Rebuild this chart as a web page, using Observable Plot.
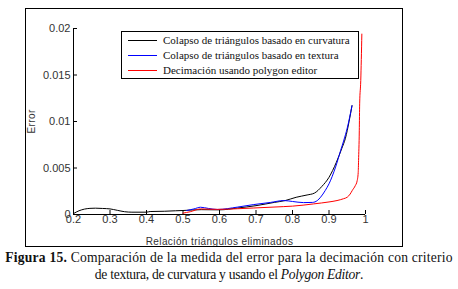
<!DOCTYPE html>
<html>
<head>
<meta charset="utf-8">
<script src="https://cdn.jsdelivr.net/npm/d3@7"></script>
<script src="https://cdn.jsdelivr.net/npm/@observablehq/plot@0.6"></script>
<style>
  body { margin: 0; background: #fff; }
  #wrap { position: relative; width: 458px; height: 289px; overflow: hidden; }
  #chart { position: absolute; left: 0; top: 0; }
  #frame { position: absolute; left: 25px; top: 8px; width: 376px; height: 237px; border: 1px solid #000; pointer-events: none; }
  #legend { position: absolute; left: 121px; top: 31px; width: 236px; height: 46px; border: 1px solid #000; background: #fff;
            font-family: "Liberation Serif", serif; font-size: 11px; color: #111; }
  #legend .row { position: absolute; left: 0; height: 15px; width: 100%; }
  #legend .sw { position: absolute; left: 6px; width: 29px; top: 7px; height: 0; border-top: 1px solid; }
  #legend .lb { position: absolute; left: 41px; top: 0; line-height: 15px; white-space: nowrap; }
  #caption { position: absolute; left: 0; top: 249px; width: 458px; text-align: center;
             font-family: "Liberation Serif", serif; font-size: 13.6px; line-height: 17px; color: #111; }
  #caption .l1 { letter-spacing: 0.22px; white-space: nowrap; }
  #caption .l2 { letter-spacing: -0.3px; white-space: nowrap; }
  #chart svg g[aria-label="x-axis label"] text, #chart svg g[aria-label="y-axis label"] text { font-size: 10px; letter-spacing: 0.4px; }
</style>
</head>
<body>
<div id="wrap">
  <div id="chart"></div>
  <div id="frame"></div>
  <div id="legend"></div>
  <div id="caption"></div>
</div>
<script>
// ---- data ----
const seriesNames = [
  "Colapso de triángulos basado en curvatura",
  "Colapso de triángulos basado en textura",
  "Decimación usando polygon editor"
];
const seriesColors = ["#000000", "#0000ff", "#ff0000"];

const curvX = [0.20, 0.215, 0.23, 0.245, 0.26, 0.28, 0.30, 0.32, 0.34, 0.36, 0.40, 0.41, 0.45, 0.48, 0.50, 0.55, 0.60, 0.65, 0.70, 0.75, 0.78, 0.81, 0.84, 0.86, 0.88, 0.90, 0.92, 0.935, 0.945, 0.955, 0.963];
const curvY = [0.0001, 0.0004, 0.00058, 0.00066, 0.00068, 0.00065, 0.0006, 0.00045, 0.0003, 0.00025, 0.00025, 0.00032, 0.00035, 0.0004, 0.00043, 0.00052, 0.0005, 0.0007, 0.00095, 0.0013, 0.0015, 0.00185, 0.0021, 0.0023, 0.003, 0.004, 0.0056, 0.0071, 0.0082, 0.0100, 0.0117];

const textX = [0.51, 0.53, 0.548, 0.57, 0.594, 0.65, 0.694, 0.74, 0.776, 0.80, 0.83, 0.855, 0.868, 0.877, 0.89, 0.90, 0.918, 0.932, 0.94, 0.95, 0.963];
const textY = [0.00043, 0.0006, 0.00078, 0.00065, 0.00054, 0.0008, 0.00107, 0.0013, 0.0015, 0.0014, 0.00128, 0.0013, 0.0015, 0.00186, 0.0026, 0.0033, 0.0051, 0.0069, 0.0079, 0.0093, 0.0117];

const polyX = [0.50, 0.52, 0.548, 0.594, 0.65, 0.694, 0.776, 0.80, 0.858, 0.90, 0.922, 0.94, 0.95, 0.958, 0.964, 0.972, 0.977, 0.980, 0.981, 0.983, 0.984, 0.987, 0.99];
const polyY = [0.00015, 0.0003, 0.0006, 0.00055, 0.00062, 0.0007, 0.00085, 0.0009, 0.00114, 0.00135, 0.0015, 0.0017, 0.00186, 0.0022, 0.0026, 0.0031, 0.0036, 0.0045, 0.0058, 0.009, 0.0119, 0.0144, 0.0194];

const xTicks = [0.2, 0.3, 0.4, 0.5, 0.6, 0.7, 0.8, 0.9, 1];
const yTicks = [0, 0.005, 0.01, 0.015, 0.02];
const xLabel = "Relación triángulos eliminados";
const yLabel = "Error";
const captionBold = "Figura 15.";
const captionText1 = " Comparación de la medida del error para la decimación con criterio";
const captionText2 = "de textura, de curvatura y usando el ";
const captionItalic = "Polygon Editor";
const captionEnd = ".";

// ---- build ----
const toRows = (xs, ys) => xs.map((x, i) => ({x, y: ys[i]}));
const series = [toRows(curvX, curvY), toRows(textX, textY), toRows(polyX, polyY)];

const chart = Plot.plot({
  width: 458,
  height: 250,
  marginLeft: 73,
  marginRight: 93,
  marginTop: 28,
  marginBottom: 36,
  style: {fontFamily: "'Liberation Sans', Arial, sans-serif", fontSize: "11px", color: "#333", background: "transparent"},
  x: {domain: [0.2, 1]},
  y: {domain: [0, 0.02]},
  marks: [
    Plot.ruleY([0], {stroke: "#000"}),
    Plot.ruleX([0.2], {stroke: "#000"}),
    Plot.axisX(xTicks, {tickSize: -4, tickPadding: 5, tickFormat: d3.format("~g"), stroke: "#000",
      label: xLabel, labelAnchor: "center", labelOffset: 30, labelArrow: "none"}),
    Plot.axisY(yTicks, {tickSize: -4, tickPadding: 7, tickFormat: d3.format("~g"), stroke: "#000",
      label: yLabel, labelAnchor: "center", labelOffset: 46, labelArrow: "none"}),
    ...series.map((s, i) => Plot.line(s, {x: "x", y: "y", stroke: seriesColors[i], strokeWidth: 1, curve: "monotone-x"}))
  ]
});
document.getElementById("chart").appendChild(chart);

// legend
const legend = document.getElementById("legend");
seriesNames.forEach((name, i) => {
  const row = document.createElement("div");
  row.className = "row";
  row.style.top = (1 + i * 15) + "px";
  const sw = document.createElement("div");
  sw.className = "sw";
  sw.style.borderTopColor = seriesColors[i];
  const lb = document.createElement("div");
  lb.className = "lb";
  lb.textContent = name;
  row.appendChild(sw);
  row.appendChild(lb);
  legend.appendChild(row);
});

// caption
const cap = document.getElementById("caption");
const l1 = document.createElement("div"); l1.className = "l1";
const b = document.createElement("b"); b.textContent = captionBold;
l1.appendChild(b);
l1.appendChild(document.createTextNode(captionText1));
const l2 = document.createElement("div"); l2.className = "l2";
l2.appendChild(document.createTextNode(captionText2));
const it = document.createElement("i"); it.textContent = captionItalic;
l2.appendChild(it);
l2.appendChild(document.createTextNode(captionEnd));
cap.appendChild(l1);
cap.appendChild(l2);
</script>
</body>
</html>
